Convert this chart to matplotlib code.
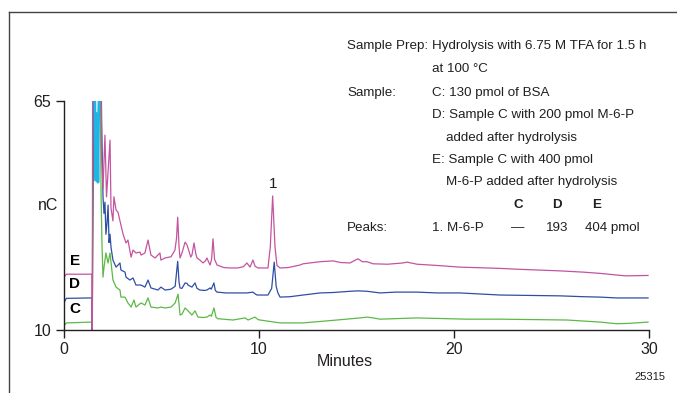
import numpy as np
import matplotlib
matplotlib.use('Agg')
import matplotlib.pyplot as plt
from matplotlib.lines import Line2D

plt.rcParams['font.family'] = ['Liberation Sans', 'DejaVu Sans']

# trace E: Sample C + 400 pmol M-6-P
t_E = [0.0, 0.12, 1.40, 1.44, 1.45, 1.47, 1.90, 1.93, 2.00, 2.10, 2.18, 2.26, 2.36, 2.41, 2.51,
       2.56, 2.67, 2.77, 2.87, 3.03, 3.18, 3.28, 3.44, 3.54, 3.69, 3.90, 3.95, 4.15, 4.31, 4.46,
       4.67, 4.92, 4.97, 5.18, 5.49, 5.69, 5.77, 5.83, 5.90, 5.95, 6.05, 6.21, 6.30, 6.36, 6.50,
       6.56, 6.67, 6.75, 6.82, 6.97, 7.13, 7.25, 7.33, 7.42, 7.49, 7.57, 7.64, 7.72, 7.85, 8.20,
       8.51, 8.90, 9.20, 9.38, 9.54, 9.69, 9.80, 9.95, 10.46, 10.58, 10.70, 10.82, 10.92, 11.08,
       11.50, 12.10, 12.26, 13.13, 13.79, 14.20, 14.67, 14.82, 15.08, 15.30, 15.54, 15.85, 16.60,
       17.38, 17.59, 18.10, 19.13, 20.31, 22.36, 23.23, 25.44, 26.62, 27.49, 28.36, 28.80, 29.95]
v_E = [22.7, 23.4, 23.4, 23.4, 10.0, 75.0, 75.0, 52.0, 44.0, 56.8, 42.0, 48.0, 55.6, 39.3, 36.2,
       42.0, 38.8, 38.3, 36.2, 33.0, 30.9, 31.6, 27.5, 29.2, 28.5, 28.7, 28.0, 28.5, 31.6, 28.0,
       27.3, 28.5, 26.8, 27.3, 27.6, 29.2, 32.0, 37.1, 30.0, 27.3, 28.5, 31.1, 30.5, 29.7, 27.5,
       28.0, 30.9, 28.5, 27.3, 26.8, 26.1, 26.6, 27.3, 26.3, 25.6, 27.0, 31.9, 27.0, 25.6, 25.0,
       24.9, 24.9, 25.2, 26.1, 25.1, 26.8, 25.3, 24.9, 24.9, 30.0, 42.2, 30.0, 25.5, 24.9,
       25.0, 25.6, 25.9, 26.4, 26.6, 26.2, 26.1, 26.5, 27.1, 26.4, 26.4, 25.9, 25.8,
       26.1, 26.3, 25.8, 25.5, 25.1, 24.8, 24.6, 24.2, 23.9, 23.6, 23.2, 23.0, 23.1]

# trace D: Sample C + 200 pmol M-6-P
t_D = [0.0, 0.12, 1.40, 1.44, 1.45, 1.50, 1.90, 1.93, 2.00, 2.05, 2.10, 2.15, 2.21, 2.26, 2.31,
       2.36, 2.41, 2.51, 2.67, 2.87, 2.92, 3.13, 3.18, 3.38, 3.54, 3.69, 3.95, 4.15, 4.31, 4.46,
       4.82, 4.97, 5.18, 5.49, 5.70, 5.83, 5.90, 5.95, 6.05, 6.21, 6.31, 6.36, 6.56, 6.72, 6.82,
       6.97, 7.20, 7.33, 7.49, 7.55, 7.69, 7.76, 7.85, 8.30, 8.87, 9.38, 9.69, 9.79, 9.90, 10.46,
       10.65, 10.78, 10.88, 10.97, 11.08, 11.60, 12.26, 13.13, 13.79, 14.67, 15.08, 15.54, 16.21,
       17.00, 18.10, 19.13, 20.31, 22.36, 25.44, 26.62, 27.49, 28.36, 29.95]
v_D = [16.6, 17.6, 17.7, 17.6, 10.0, 75.0, 75.0, 60.0, 42.0, 38.0, 40.7, 33.0, 35.9, 40.0, 31.0,
       33.0, 29.9, 26.8, 25.1, 26.1, 24.4, 23.9, 22.7, 22.0, 22.5, 20.8, 20.8, 20.3, 22.0, 20.1,
       19.6, 20.3, 19.6, 19.8, 20.5, 26.5, 21.5, 20.1, 20.0, 21.3, 21.2, 20.8, 20.3, 21.3, 20.0,
       19.6, 19.5, 19.6, 20.1, 19.8, 21.3, 19.5, 19.1, 18.9, 18.9, 18.9, 19.1, 18.7, 18.4, 18.4,
       20.0, 26.3, 20.5, 18.9, 17.9, 18.0, 18.4, 18.9, 19.0, 19.3, 19.4, 19.3, 18.9,
       19.1, 19.1, 18.9, 18.9, 18.4, 18.2, 18.0, 17.9, 17.7, 17.7]

# trace C: 130 pmol BSA
t_C = [0.0, 0.12, 1.40, 1.44, 1.45, 1.55, 1.85, 1.90, 1.95, 2.00, 2.05, 2.15, 2.26, 2.36, 2.51,
       2.67, 2.87, 2.92, 3.13, 3.28, 3.44, 3.59, 3.69, 3.95, 4.15, 4.31, 4.46, 4.82, 4.97, 5.18,
       5.49, 5.70, 5.85, 5.95, 6.05, 6.21, 6.36, 6.56, 6.72, 6.87, 7.13, 7.33, 7.49, 7.56, 7.69,
       7.80, 7.90, 8.67, 9.28, 9.44, 9.79, 9.95, 10.05, 11.08, 12.26, 14.00, 15.18, 15.54, 15.85,
       16.21, 18.10, 20.67, 22.36, 25.79, 27.49, 28.36, 29.00, 29.95]
v_C = [11.0, 11.7, 11.9, 11.8, 10.0, 75.0, 75.0, 43.1, 30.0, 22.7, 25.0, 28.5, 26.1, 28.5, 22.0,
       20.3, 19.6, 17.9, 17.9, 16.5, 15.5, 17.2, 15.5, 16.5, 16.0, 17.7, 15.5, 15.3, 15.5, 15.3,
       15.5, 16.5, 18.6, 13.6, 13.8, 15.3, 14.6, 13.6, 14.6, 13.1, 13.0, 13.1, 13.6, 13.3, 15.3,
       13.0, 12.7, 12.4, 12.9, 12.4, 13.1, 12.5, 12.4, 11.7, 11.7, 12.4, 12.9, 13.1, 12.9,
       12.6, 12.9, 12.6, 12.6, 12.4, 11.9, 11.5, 11.6, 11.9]

# void-volume overlap segment
t_V = [1.58, 1.62, 1.65, 1.68, 1.71, 1.74, 1.77, 1.80]
v_V = [66.0, 46.0, 62.0, 48.0, 58.0, 45.5, 60.0, 66.0]

trace_labels = ['E', 'D', 'C']
label_levels = [25.0, 19.3, 13.3]
colors = ['#c4549f', '#2f4ea5', '#5cb947']
ink = '#231f20'

fig = plt.figure(figsize=(6.77, 3.93), dpi=100)
W, H = 677.0, 393.0
ax = fig.add_axes([64/W, 1-330/H, (649-64)/W, (330-101)/H])

# C first so that E ends up on top, as in the original
for t, v, c in zip([t_C, t_D, t_E], [v_C, v_D, v_E], colors[::-1]):
    ax.plot(t, v, color=c, lw=0.9, solid_joinstyle='round')
ax.plot(t_V, v_V, color='#1fb6e3', lw=2.0)

for lab, lev in zip(trace_labels, label_levels):
    ax.text(0.55, lev, lab, fontsize=11, fontweight='bold', color='black',
            ha='center', va='bottom')

ax.text(10.70, 43.3, '1', fontsize=11, ha='center', va='bottom', color=ink)

ax.set_xlim(0, 30)
ax.set_ylim(10, 65)
ax.set_xticks([0, 10, 20, 30])
ax.set_yticks([10, 65])
for s in ['top', 'right']:
    ax.spines[s].set_visible(False)
for s in ['left', 'bottom']:
    ax.spines[s].set_linewidth(1.0)
    ax.spines[s].set_color(ink)
ax.tick_params(direction='out', length=6, width=1.0, color=ink, labelsize=11.5,
               labelcolor=ink, pad=3)
ax.patch.set_alpha(0)

def ftext(x, y, s, **kw):
    fig.text(x/W, 1-y/H, s, va='center', color=ink, **kw)

ftext(48, 206, 'nC', fontsize=11.5, ha='center')
ftext(345, 362, 'Minutes', fontsize=11.5, ha='center')
ftext(650, 377, '25315', fontsize=8, ha='center')

fs = 9.6
ftext(347, 46, 'Sample Prep:', fontsize=fs)
ftext(432, 46, 'Hydrolysis with 6.75 M TFA for 1.5 h', fontsize=fs)
ftext(432, 69, 'at 100 \u00b0C', fontsize=fs)
ftext(347, 93, 'Sample:', fontsize=fs)
ftext(432, 93, 'C: 130 pmol of BSA', fontsize=fs)
ftext(432, 115, 'D: Sample C with 200 pmol M-6-P', fontsize=fs)
ftext(446, 138, 'added after hydrolysis', fontsize=fs)
ftext(432, 160, 'E: Sample C with 400 pmol', fontsize=fs)
ftext(446, 182, 'M-6-P added after hydrolysis', fontsize=fs)
ftext(518, 205, 'C', fontsize=fs, fontweight='bold', ha='center')
ftext(557, 205, 'D', fontsize=fs, fontweight='bold', ha='center')
ftext(597, 205, 'E', fontsize=fs, fontweight='bold', ha='center')
ftext(347, 228, 'Peaks:', fontsize=fs)
ftext(432, 228, '1. M-6-P', fontsize=fs)
ftext(518, 228, '\u2014', fontsize=fs, ha='center')
ftext(557, 228, '193', fontsize=fs, ha='center')
ftext(585, 228, '404 pmol', fontsize=fs)

# frame lines
fig.add_artist(Line2D([9/W, 9/W], [0, 1-12/H], color='#444444', lw=1.0))
fig.add_artist(Line2D([9/W, 1], [1-12/H, 1-12/H], color='#444444', lw=1.0))

fig.savefig('out.png', dpi=100)
